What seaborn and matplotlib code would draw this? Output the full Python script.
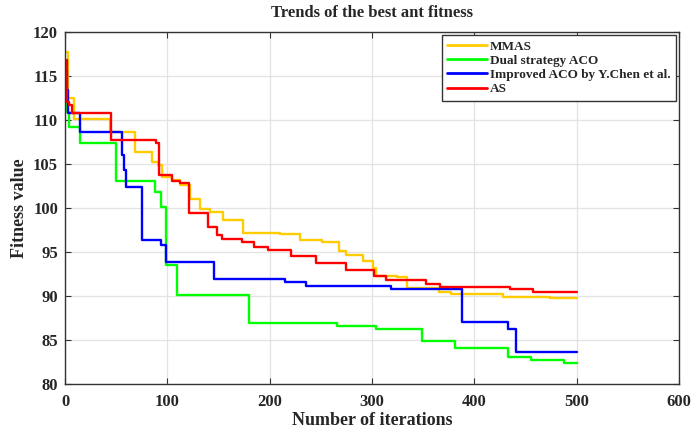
import numpy as np
import pandas as pd
import matplotlib
matplotlib.use("Agg")
import matplotlib.pyplot as plt
import seaborn as sns

# ---- data (step breakpoints) ----
mmas_it = [0, 3, 9, 44, 68, 85, 91, 95, 105, 112, 122, 132, 142, 154, 174, 210, 230, 251,
           268, 275, 291, 301, 304, 324, 334, 366, 377, 428, 474, 500]
mmas_val = [117.7, 112.5, 110.1, 108.6, 106.4, 105.2, 104.9, 103.5, 103.2, 102.6, 101.0, 99.9,
            99.5, 98.6, 97.2, 97.0, 96.4, 96.1, 95.1, 94.7, 94.0, 93.2, 92.3, 92.1, 90.9, 90.5,
            90.2, 89.9, 89.8, 89.8]

dual_it = [0, 2, 4, 15, 50, 88, 94, 99, 109, 180, 266, 304, 349, 381, 433, 455, 488, 500]
dual_val = [112.5, 110.9, 109.2, 107.4, 103.0, 101.8, 100.1, 93.5, 90.1, 86.9, 86.6, 86.2,
            84.9, 84.1, 83.1, 82.7, 82.4, 82.4]

chen_it = [0, 2, 3, 15, 56, 58, 60, 75, 94, 99, 146, 215, 236, 319, 388, 433, 441, 500]
chen_val = [115.5, 113.4, 110.8, 108.6, 106.0, 104.3, 102.4, 96.4, 95.8, 93.9, 91.9, 91.6,
            91.1, 90.8, 87.0, 86.3, 83.6, 83.6]

as_it = [0, 2, 4, 7, 45, 89, 92, 105, 112, 121, 140, 149, 153, 173, 185, 198, 221, 245, 275,
         302, 314, 353, 367, 435, 457, 500]
as_val = [116.8, 112.0, 111.7, 110.8, 107.7, 107.4, 103.7, 103.0, 102.8, 99.4, 97.8, 96.9,
          96.5, 96.1, 95.6, 95.2, 94.5, 93.7, 93.0, 92.3, 91.8, 91.4, 91.0, 90.8, 90.5, 90.5]

labels = ["MMAS", "Dual strategy ACO", "Improved ACO by Y.Chen et al.", "AS"]
colors = ["#FFCC00", "#00FF00", "#0000FF", "#FF0000"]
x_ticks = [0, 100, 200, 300, 400, 500, 600]
y_ticks = [80, 85, 90, 95, 100, 105, 110, 115, 120]

frames = []
for lab, it, val in zip(labels, [mmas_it, dual_it, chen_it, as_it],
                        [mmas_val, dual_val, chen_val, as_val]):
    frames.append(pd.DataFrame({"Iteration": it, "Fitness": val, "Algorithm": lab}))
df = pd.concat(frames, ignore_index=True)

sns.set_theme(style="whitegrid")
plt.rcParams["font.family"] = ["Liberation Serif", "DejaVu Serif"]
plt.rcParams["font.weight"] = "bold"

fig = plt.figure(figsize=(6.92, 4.30), dpi=100)
ax = fig.add_axes([0.094, 0.107, 0.887, 0.819])

sns.lineplot(data=df, x="Iteration", y="Fitness", hue="Algorithm", hue_order=labels,
             palette=dict(zip(labels, colors)), drawstyle="steps-post", linewidth=1.7,
             estimator=None, sort=False, ax=ax)

ax.set_xlim(0, 600)
ax.set_ylim(80, 120)
ax.set_xticks(x_ticks)
ax.set_yticks(y_ticks)
ax.set_xticklabels([str(t) for t in x_ticks], fontsize=12, fontweight="bold")
ax.set_yticklabels([str(t) for t in y_ticks], fontsize=12, fontweight="bold")
ax.grid(True, color="#e3e3e3", linewidth=0.9)
for s in ax.spines.values():
    s.set_color("#333333")
    s.set_linewidth(1.0)
ax.tick_params(direction="in", length=4, width=0.8, color="#333333",
               top=True, right=True, bottom=True, left=True)
ax.tick_params(axis="x", pad=7)
ax.tick_params(axis="y", pad=5)

ax.set_title("Trends of the best ant fitness", fontsize=12, fontweight="bold", pad=11)
ax.set_xlabel("Number of iterations", fontsize=13, fontweight="bold", labelpad=2)
ax.set_ylabel("Fitness value", fontsize=13, fontweight="bold", labelpad=4)

leg = ax.legend(loc="upper right", bbox_to_anchor=(1.0, 1.0), borderaxespad=0.25,
                fancybox=False, framealpha=1, edgecolor="#333333",
                prop={"family": "Liberation Serif", "weight": "bold", "size": 9.5},
                handlelength=3.0, handletextpad=0.2, labelspacing=0.15,
                borderpad=0.4, title=None)
leg.get_frame().set_linewidth(1.0)
for h in leg.get_lines():
    h.set_linewidth(2.0)

fig.savefig("out.png", dpi=100)
